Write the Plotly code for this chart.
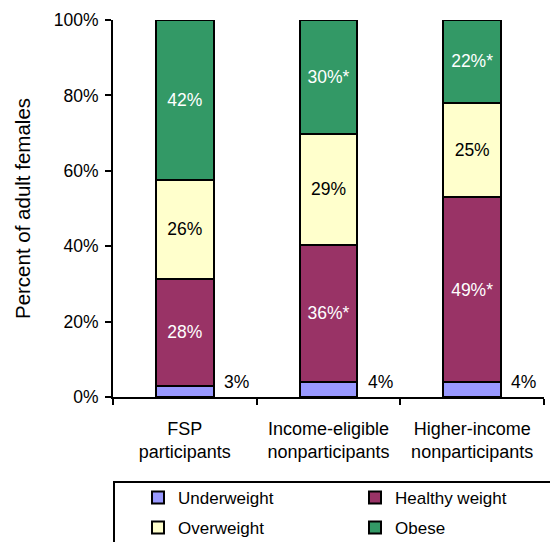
import plotly.graph_objects as go

# Weight status of adult females by FSP participation group (percent)
groups = ["FSP<br>participants", "Income-eligible<br>nonparticipants", "Higher-income<br>nonparticipants"]
underweight = [3, 4, 4]
healthy = [28, 36, 49]
overweight = [26, 29, 25]
obese = [42, 30, 22]
# statistically significant difference vs. FSP participants
healthy_sig = [False, True, True]
overweight_sig = [False, False, False]
obese_sig = [False, True, True]
y_ticks = [0, 20, 40, 60, 80, 100]

FONT = "Arial, Liberation Sans, sans-serif"
W, H = 550, 542
ML, MR, MT, MB = 113, 6, 20, 145
PW = W - ML - MR
PH = H - MT - MB


def labels(vals, sig):
    return [f"{v}%" + ("*" if s else "") for v, s in zip(vals, sig)]


def px_x(p):
    return (p - ML) / PW


def px_y(p):
    return (H - MB - p) / PH


# name, values, significance flags, fill, label colour, legend row
series = [
    ("Underweight", underweight, None, "#9999FF", "black", "legend"),
    ("Healthy weight", healthy, healthy_sig, "#993366", "white", "legend"),
    ("Overweight", overweight, overweight_sig, "#FFFFCC", "black", "legend2"),
    ("Obese", obese, obese_sig, "#339966", "white", "legend2"),
]

fig = go.Figure()
for name, vals, sig, color, tcolor, leg in series:
    fig.add_trace(go.Bar(
        name=name,
        x=groups,
        y=vals,
        width=0.4,
        legend=leg,
        marker=dict(color=color, line=dict(color="black", width=2)),
        text=labels(vals, sig) if sig is not None else None,
        textposition="inside" if sig is not None else "none",
        insidetextanchor="middle",
        textangle=0,
        textfont=dict(family=FONT, size=17.5, color=tcolor),
        hoverinfo="skip",
    ))

# underweight values sit just right of each bar's base
for g, v in zip(groups, underweight):
    fig.add_annotation(
        x=g, y=0, xref="x", yref="y",
        text=f"{v}%", showarrow=False,
        xanchor="left", yanchor="bottom", xshift=37, yshift=3,
        font=dict(family=FONT, size=17.5, color="black"),
    )

# legend frame
fig.add_shape(
    type="rect", xref="paper", yref="paper",
    x0=px_x(114), x1=px_x(620), y0=px_y(482), y1=px_y(620),
    line=dict(color="black", width=2), fillcolor="rgba(0,0,0,0)",
    layer="above",
)

legend_common = dict(
    orientation="h",
    traceorder="normal",
    x=px_x(138), xanchor="left",
    yanchor="top",
    entrywidth=172, entrywidthmode="pixels",
    font=dict(family=FONT, size=17, color="black"),
    bgcolor="rgba(0,0,0,0)",
    borderwidth=0,
    itemclick=False, itemdoubleclick=False,
)

fig.update_layout(
    width=W, height=H,
    margin=dict(l=ML, r=MR, t=MT, b=MB, pad=0, autoexpand=False),
    barmode="stack",
    barnorm="percent",
    plot_bgcolor="white",
    paper_bgcolor="white",
    font=dict(family=FONT, size=17.5, color="black"),
    showlegend=True,
    legend=dict(legend_common, y=px_y(480)),
    legend2=dict(legend_common, y=px_y(510)),
    xaxis=dict(
        showline=True, linecolor="black", linewidth=2,
        ticks="outside", tickson="boundaries", ticklen=6, tickwidth=2, tickcolor="black",
        ticklabelstandoff=14,
        tickfont=dict(family=FONT, size=18),
        showgrid=False, zeroline=False, fixedrange=True,
    ),
    yaxis=dict(
        range=[0, 100],
        tickvals=y_ticks,
        ticktext=[f"{t}%" for t in y_ticks],
        showline=True, linecolor="black", linewidth=2,
        ticks="outside", ticklen=6, tickwidth=2, tickcolor="black",
        ticklabelstandoff=3,
        tickfont=dict(family=FONT, size=17.5),
        showgrid=False, zeroline=False, fixedrange=True,
        title=dict(text="Percent of adult females", font=dict(family=FONT, size=20.5), standoff=18),
    ),
)

fig.write_html("out.html")
